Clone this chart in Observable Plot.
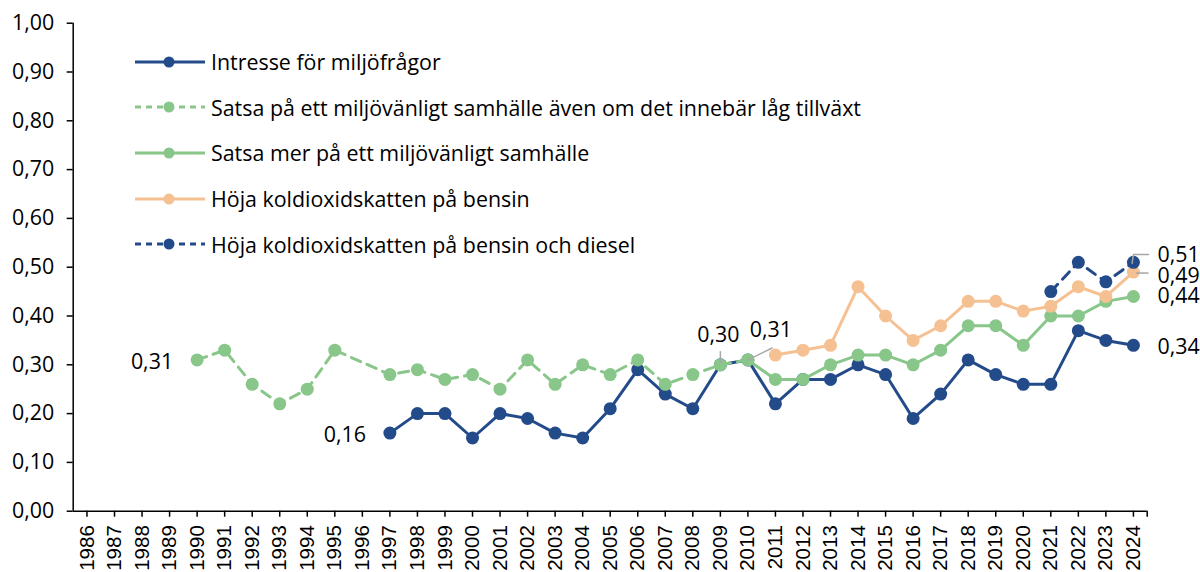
<!DOCTYPE html>
<html>
<head>
<meta charset="utf-8">
<script src="https://cdn.jsdelivr.net/npm/d3@7"></script>
<script src="https://cdn.jsdelivr.net/npm/@observablehq/plot@0.6"></script>
<style>
  html, body { margin: 0; padding: 0; background: #fff; }
  #wrap { position: relative; width: 1200px; height: 572px; overflow: hidden; }
  #wrap svg { display: block; }
  #wrap g[aria-label="x-axis tick label"] text { font-family: "Liberation Sans", Arial, sans-serif; }
  #legend { position: absolute; left: 135px; top: 39px; font-family: "Open Sans", sans-serif; font-size: 21.4px; color: #000; }
  .row { height: 45.6px; display: flex; align-items: center; white-space: nowrap; }
  .row svg { margin-right: 6px; }
</style>
</head>
<body>
<div id="wrap"><div id="legend"></div></div>
<script>
// ---- categories / tick labels ----
const years = [1986,1987,1988,1989,1990,1991,1992,1993,1994,1995,1996,1997,1998,1999,2000,
  2001,2002,2003,2004,2005,2006,2007,2008,2009,2010,2011,2012,2013,2014,2015,2016,2017,2018,
  2019,2020,2021,2022,2023,2024];
const yTicks = [0,0.1,0.2,0.3,0.4,0.5,0.6,0.7,0.8,0.9,1.0];

// ---- series ----
const seriesNames = [
  "Intresse för miljöfrågor",
  "Satsa på ett miljövänligt samhälle även om det innebär låg tillväxt",
  "Satsa mer på ett miljövänligt samhälle",
  "Höja koldioxidskatten på bensin",
  "Höja koldioxidskatten på bensin och diesel"
];

const intresseYears = [1997,1998,1999,2000,2001,2002,2003,2004,2005,2006,2007,2008,2009,2010,
  2011,2012,2013,2014,2015,2016,2017,2018,2019,2020,2021,2022,2023,2024];
const intresseValues = [0.16,0.20,0.20,0.15,0.20,0.19,0.16,0.15,0.21,0.29,0.24,0.21,0.30,0.31,
  0.22,0.27,0.27,0.30,0.28,0.19,0.24,0.31,0.28,0.26,0.26,0.37,0.35,0.34];

const tillvaxtYears = [1990,1991,1992,1993,1994,1995,1997,1998,1999,2000,2001,2002,2003,2004,
  2005,2006,2007,2008,2009,2010];
const tillvaxtValues = [0.31,0.33,0.26,0.22,0.25,0.33,0.28,0.29,0.27,0.28,0.25,0.31,0.26,0.30,
  0.28,0.31,0.26,0.28,0.30,0.31];

const satsaMerYears = [2010,2011,2012,2013,2014,2015,2016,2017,2018,2019,2020,2021,2022,2023,2024];
const satsaMerValues = [0.31,0.27,0.27,0.30,0.32,0.32,0.30,0.33,0.38,0.38,0.34,0.40,0.40,0.43,0.44];

const bensinYears = [2011,2012,2013,2014,2015,2016,2017,2018,2019,2020,2021,2022,2023,2024];
const bensinValues = [0.32,0.33,0.34,0.46,0.40,0.35,0.38,0.43,0.43,0.41,0.42,0.46,0.44,0.49];

const dieselYears = [2021,2022,2023,2024];
const dieselValues = [0.45,0.51,0.47,0.51];

// ---- styles ----
const BLUE = "#234b8a", GREEN = "#88c68a", ORANGE = "#f5c193", GREY = "#a6a6a6";
const styles = [
  {color: BLUE, dash: null},
  {color: GREEN, dash: "10,7"},
  {color: GREEN, dash: null},
  {color: ORANGE, dash: null},
  {color: BLUE, dash: "10,7"}
];

const toRows = (ys, vs) => ys.map((year, i) => ({year, value: vs[i]}));
const series = [
  toRows(intresseYears, intresseValues),
  toRows(tillvaxtYears, tillvaxtValues),
  toRows(satsaMerYears, satsaMerValues),
  toRows(bensinYears, bensinValues),
  toRows(dieselYears, dieselValues)
];

const fmt = d => d.toFixed(2).replace(".", ",");
const at = (rows, y) => rows.filter(d => d.year === y);

const seriesMarks = series.flatMap((rows, i) => [
  Plot.line(rows, {x: "year", y: "value", stroke: styles[i].color, strokeWidth: 3,
    strokeDasharray: styles[i].dash || undefined, strokeLinejoin: "round"}),
  Plot.dot(rows, {x: "year", y: "value", r: 6.5, fill: styles[i].color, stroke: "none"})
]);

const FS = 21.4;
const textOpts = {x: "year", y: "value", text: d => fmt(d.value), fontSize: FS, fill: "#000"};

const chart = Plot.plot({
  width: 1200,
  height: 572,
  marginLeft: 72.7,
  marginRight: 53.3,
  marginTop: 22.7,
  marginBottom: 61.3,
  x: {type: "linear", domain: [1985.5, 2024.5], label: null},
  y: {domain: [0, 1], label: null},
  style: {fontFamily: "'Open Sans', sans-serif", fontSize: FS + "px", color: "#000", background: "#fff"},
  marks: [
    Plot.axisY({ticks: yTicks, tickFormat: fmt, tickSize: 6, tickPadding: 13, fontSize: FS,
      stroke: "#000", strokeWidth: 1.5, label: null}),
    Plot.axisX({ticks: [...years, 2024.5], tickFormat: d => Number.isInteger(d) ? String(d) : "",
      tickRotate: -90, tickSize: 6, tickPadding: 8, fontSize: 20.5, stroke: "#000", strokeWidth: 1.5,
      label: null, fontFamily: "Liberation Sans"}),
    Plot.ruleY([0], {stroke: "#000", strokeWidth: 1.5}),
    Plot.ruleX([1985.5], {stroke: "#000", strokeWidth: 1.5}),
    ...seriesMarks,
    // leader lines
    Plot.link(at(series[1], 2009), {x1: "year", x2: "year", y1: d => d.value + 0.004, y2: d => d.value + 0.028,
      stroke: GREY, strokeWidth: 1.5}),
    Plot.link(at(series[1], 2010), {x1: "year", x2: d => d.year + 0.9, y1: "value", y2: d => d.value + 0.025,
      stroke: GREY, strokeWidth: 1.5}),
    Plot.line(at(series[4], 2024).flatMap(d => [
        {year: d.year - 0.05, value: d.value - 0.002},
        {year: d.year, value: d.value + 0.016},
        {year: d.year + 0.55, value: d.value + 0.016}]),
      {x: "year", y: "value", stroke: GREY, strokeWidth: 1.5}),
    Plot.link(at(series[3], 2024), {x1: d => d.year + 0.1, x2: d => d.year + 0.55, y1: d => d.value - 0.002,
      y2: d => d.value - 0.002, stroke: GREY, strokeWidth: 1.5}),
    // value labels
    Plot.text(at(series[1], 1990), {...textOpts, textAnchor: "end", dx: -24, dy: 2}),
    Plot.text(at(series[0], 1997), {...textOpts, textAnchor: "end", dx: -24, dy: 2}),
    Plot.text(at(series[1], 2009), {...textOpts, textAnchor: "middle", dx: -2, dy: -30}),
    Plot.text(at(series[1], 2010), {...textOpts, textAnchor: "middle", dx: 23, dy: -30}),
    Plot.text(at(series[4], 2024), {...textOpts, textAnchor: "start", dx: 24, dy: -7}),
    Plot.text(at(series[3], 2024), {...textOpts, textAnchor: "start", dx: 24, dy: 4}),
    Plot.text(at(series[2], 2024), {...textOpts, textAnchor: "start", dx: 24, dy: 0}),
    Plot.text(at(series[0], 2024), {...textOpts, textAnchor: "start", dx: 24, dy: 1.5})
  ]
});

const wrap = document.getElementById("wrap");
wrap.insertBefore(chart, wrap.firstChild);

// ---- legend ----
const legend = document.getElementById("legend");
seriesNames.forEach((name, i) => {
  const row = document.createElement("div");
  row.className = "row";
  const s = styles[i];
  row.innerHTML = `<svg width="70" height="14" viewBox="0 0 70 14">
      <line x1="0" y1="7" x2="70" y2="7" stroke="${s.color}" stroke-width="3" ${s.dash ? 'stroke-dasharray="6,5"' : ''}/>
      <circle cx="34" cy="7" r="5.5" fill="${s.color}"/>
    </svg><span>${name}</span>`;
  legend.appendChild(row);
});
</script>
</body>
</html>
